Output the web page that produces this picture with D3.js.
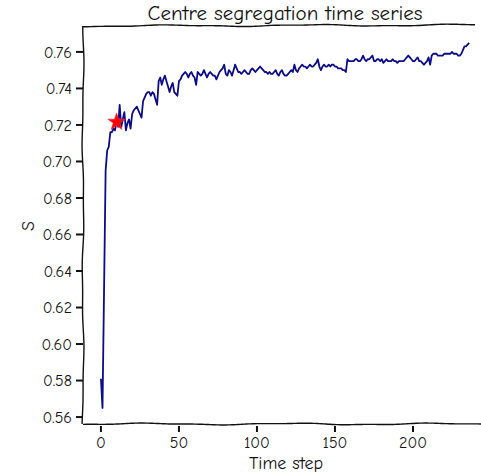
<!DOCTYPE html>
<html><head><meta charset="utf-8">
<script src="https://cdn.jsdelivr.net/npm/d3@7"></script>
<style>body{margin:0;background:#fff}svg{display:block}text{font-family:"Humor Sans","Comic Sans MS","Comic Neue","Noto Sans",sans-serif;}</style>
</head><body><svg id="c" width="481" height="474"></svg>
<script>
const title = "Centre segregation time series";
const xLabel = "Time step";
const yLabel = "S";
const xTicks = [0, 50, 100, 150, 200];
const yTicks = [0.56, 0.58, 0.60, 0.62, 0.64, 0.66, 0.68, 0.70, 0.72, 0.74, 0.76];
const markStep = 10;
const markValue = 0.7216;
const sValues = [
0.581,0.565,0.630,0.695,0.706,0.708,0.716,0.716,0.718,0.717,
0.7216,0.719,0.731,0.719,0.723,0.727,0.717,0.721,0.723,0.718,
0.726,0.728,0.729,0.730,0.728,0.726,0.724,0.733,0.735,0.737,
0.738,0.738,0.736,0.738,0.737,0.734,0.731,0.744,0.746,0.742,
0.745,0.747,0.744,0.741,0.738,0.741,0.743,0.738,0.737,0.736,
0.744,0.745,0.747,0.748,0.749,0.748,0.746,0.748,0.749,0.747,
0.746,0.742,0.749,0.748,0.747,0.748,0.750,0.748,0.746,0.748,
0.749,0.748,0.747,0.747,0.745,0.747,0.749,0.750,0.751,0.753,
0.748,0.747,0.750,0.749,0.747,0.750,0.753,0.751,0.749,0.749,
0.748,0.749,0.750,0.749,0.748,0.748,0.750,0.751,0.750,0.749,
0.750,0.751,0.752,0.751,0.750,0.749,0.749,0.748,0.749,0.748,
0.748,0.749,0.750,0.748,0.747,0.749,0.750,0.748,0.747,0.747,
0.748,0.749,0.750,0.749,0.753,0.750,0.749,0.751,0.752,0.753,
0.752,0.752,0.751,0.752,0.753,0.752,0.752,0.753,0.754,0.756,
0.752,0.750,0.752,0.753,0.752,0.752,0.753,0.752,0.753,0.753,
0.752,0.752,0.751,0.751,0.751,0.750,0.750,0.749,0.756,0.755,
0.755,0.755,0.755,0.756,0.756,0.755,0.755,0.756,0.758,0.756,
0.755,0.756,0.756,0.757,0.758,0.755,0.755,0.756,0.756,0.755,
0.756,0.754,0.755,0.756,0.755,0.755,0.755,0.756,0.755,0.755,
0.754,0.755,0.755,0.755,0.755,0.756,0.757,0.758,0.757,0.756,
0.755,0.755,0.756,0.757,0.755,0.755,0.754,0.753,0.754,0.755,
0.757,0.753,0.758,0.759,0.759,0.759,0.758,0.758,0.758,0.758,
0.759,0.759,0.759,0.759,0.759,0.760,0.759,0.759,0.759,0.758,
0.758,0.759,0.761,0.763,0.763,0.764,0.765
];
const steps = sValues.map((v, i) => i);

const svg = d3.select("#c");
const L = 83, R = 481, T = 26, B = 424;
const x = d3.scaleLinear().domain([-11.5, 243.6]).range([L, R]);
const y = d3.scaleLinear().domain([0.5562, 0.7742]).range([B, T]);

function wiggle(x0, y0, x1, y1, amp, seed) {
  const len = Math.hypot(x1 - x0, y1 - y0), n = Math.max(2, Math.round(len / 4));
  const nx = -(y1 - y0) / len, ny = (x1 - x0) / len;
  const pts = [];
  for (let i = 0; i <= n; i++) {
    const t = i / n;
    const o = amp * (Math.sin(t * len / 23 + seed) * 0.7 + Math.sin(t * len / 9 + seed * 2.3) * 0.3);
    pts.push([x0 + (x1 - x0) * t + nx * o, y0 + (y1 - y0) * t + ny * o]);
  }
  return d3.line().curve(d3.curveBasis)(pts);
}

// data line
svg.append("path")
  .datum(steps)
  .attr("fill", "none")
  .attr("stroke", "#0c0c8a")
  .attr("stroke-width", 1.8)
  .attr("stroke-linejoin", "round")
  .attr("d", d3.line().x(i => x(i)).y(i => y(sValues[i])));

// star marker
svg.append("path")
  .attr("d", d3.symbol().type(d3.symbolStar).size(95)())
  .attr("transform", `translate(${x(markStep)},${y(markValue)})`)
  .attr("fill", "red").attr("stroke", "#ff3030").attr("stroke-width", 0.6);

// frame
const frame = svg.append("g").attr("fill", "none").attr("stroke", "#111").attr("stroke-width", 1.4);
frame.append("path").attr("d", wiggle(L, T, R - 6, T - 1, 1.0, 1));
frame.append("path").attr("d", wiggle(L, B, R, B, 1.0, 2));
frame.append("path").attr("d", wiggle(L, T, L, B, 1.0, 3));

// ticks
const tk = svg.append("g").attr("stroke", "#111").attr("stroke-width", 2);
yTicks.forEach(v => tk.append("line").attr("x1", L - 7).attr("x2", L).attr("y1", y(v)).attr("y2", y(v)));
xTicks.forEach(v => tk.append("line").attr("x1", x(v)).attr("x2", x(v)).attr("y1", B + 2).attr("y2", B + 8));

svg.append("g").selectAll("text").data(yTicks).join("text")
  .attr("x", L - 11).attr("y", d => y(d)).attr("dy", "0.35em")
  .attr("text-anchor", "end").attr("font-size", 16).attr("fill", "#111")
  .text(d => d3.format(".2f")(d));
svg.append("g").selectAll("text").data(xTicks).join("text")
  .attr("x", d => x(d)).attr("y", B + 24)
  .attr("text-anchor", "middle").attr("font-size", 16).attr("fill", "#111")
  .text(d => d);

svg.append("text").attr("x", 285).attr("y", 20).attr("text-anchor", "middle")
  .attr("font-size", 21).attr("fill", "#111").text(title);
svg.append("text").attr("x", 286).attr("y", 469).attr("text-anchor", "middle")
  .attr("font-size", 18).attr("fill", "#111").text(xLabel);
svg.append("text").attr("transform", "translate(34,226) rotate(-90)").attr("text-anchor", "middle")
  .attr("font-size", 18).attr("fill", "#111").text(yLabel);
</script></body></html>
